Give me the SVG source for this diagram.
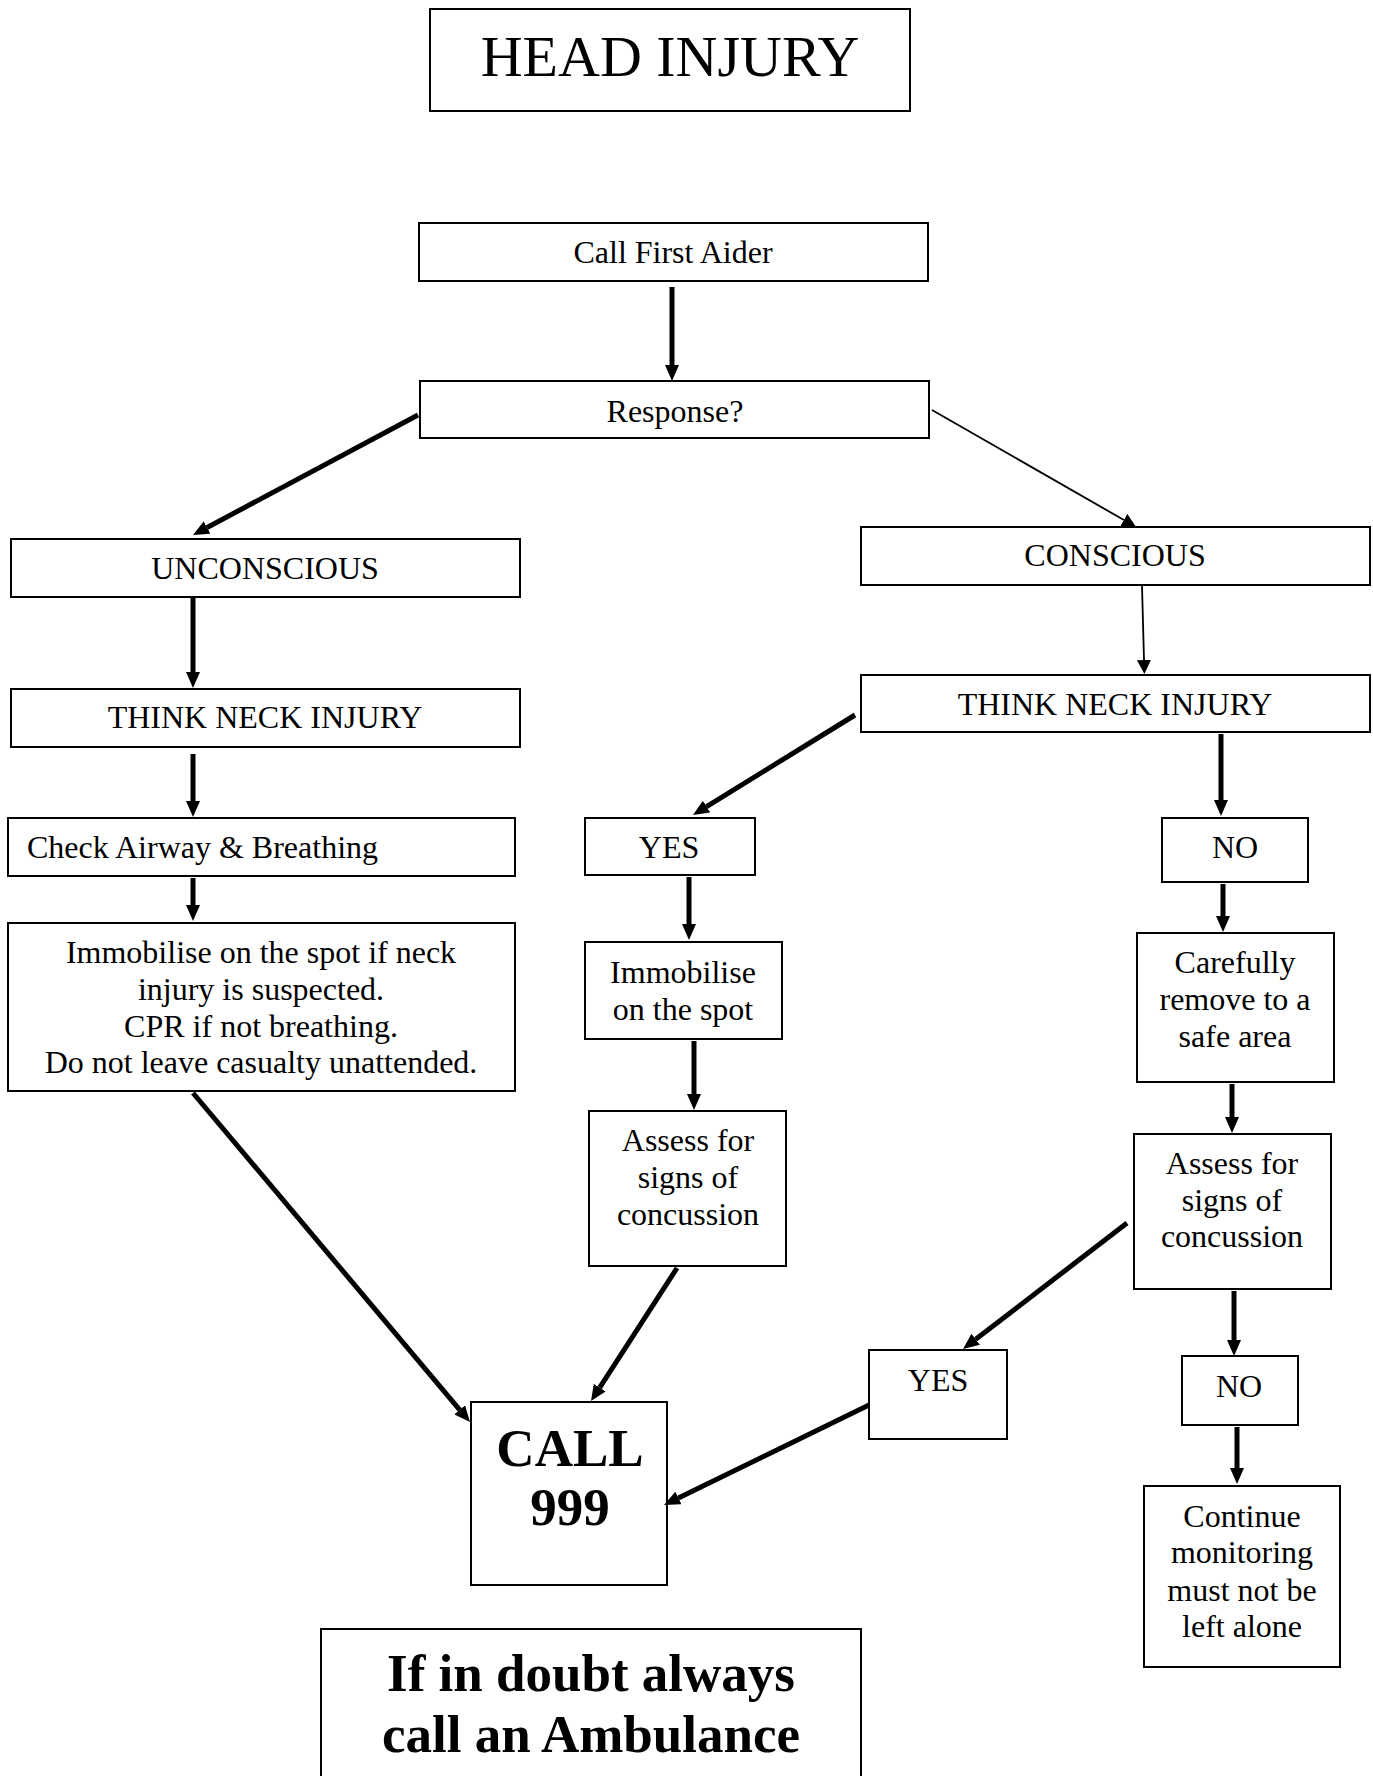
<svg xmlns="http://www.w3.org/2000/svg" width="1373" height="1776" viewBox="0 0 1373 1776">
<style>
.box{fill:#fff;stroke:#000;stroke-width:2}
text{font-family:"Liberation Serif","Times New Roman",serif;font-size:32px;fill:#000;text-anchor:middle}
.title{font-size:58px}
.big{font-size:53px;font-weight:bold}
.left{text-anchor:start}
.thick{stroke:#000;stroke-width:5;fill:none;marker-end:url(#ah)}
.thin{stroke:#000;stroke-width:1.8;fill:none;marker-end:url(#ahs)}
</style>
<defs>
<marker id="ah" markerWidth="16" markerHeight="14" refX="0" refY="7" orient="auto" markerUnits="userSpaceOnUse"><path d="M0,0 L16,7 L0,14 z" fill="#000"/></marker>
<marker id="ahs" markerWidth="14" markerHeight="14" refX="0" refY="7" orient="auto" markerUnits="userSpaceOnUse"><path d="M0,0 L14,7 L0,14 z" fill="#000"/></marker>
</defs>
<rect width="1373" height="1776" fill="#fff"/>
<g id="title"><rect class="box" x="430" y="9" width="480" height="102"/><text class="title" x="670" y="76">HEAD INJURY</text></g>
<g id="call-first-aider"><rect class="box" x="419" y="223" width="509" height="58"/><text x="673" y="263">Call First Aider</text></g>
<g id="response"><rect class="box" x="420" y="381" width="509" height="57"/><text x="675" y="422">Response?</text></g>
<g id="unconscious"><rect class="box" x="11" y="539" width="509" height="58"/><text x="265" y="579">UNCONSCIOUS</text></g>
<g id="conscious"><rect class="box" x="861" y="527" width="509" height="58"/><text x="1115" y="566">CONSCIOUS</text></g>
<g id="think-left"><rect class="box" x="11" y="689" width="509" height="58"/><text x="265" y="728">THINK NECK INJURY</text></g>
<g id="think-right"><rect class="box" x="861" y="675" width="509" height="57"/><text x="1115" y="715">THINK NECK INJURY</text></g>
<g id="check-airway"><rect class="box" x="8" y="818" width="507" height="58"/><text class="left" x="27" y="858">Check Airway &amp; Breathing</text></g>
<g id="immobilise-left"><rect class="box" x="8" y="923" width="507" height="168"/>
<text x="261" y="963">Immobilise on the spot if neck</text><text x="261" y="1000">injury is suspected.</text><text x="261" y="1037">CPR if not breathing.</text><text x="261" y="1073">Do not leave casualty unattended.</text></g>
<g id="yes-mid"><rect class="box" x="585" y="818" width="170" height="57"/><text x="669" y="858">YES</text></g>
<g id="immobilise-mid"><rect class="box" x="585" y="942" width="197" height="97"/><text x="683" y="983">Immobilise</text><text x="683" y="1020">on the spot</text></g>
<g id="assess-mid"><rect class="box" x="589" y="1111" width="197" height="155"/><text x="688" y="1151">Assess for</text><text x="688" y="1188">signs of</text><text x="688" y="1225">concussion</text></g>
<g id="call-999"><rect class="box" x="471" y="1402" width="196" height="183"/><text class="big" x="570" y="1466">CALL</text><text class="big" x="570" y="1525">999</text></g>
<g id="no-right"><rect class="box" x="1162" y="818" width="146" height="64"/><text x="1235" y="858">NO</text></g>
<g id="carefully"><rect class="box" x="1137" y="933" width="197" height="149"/><text x="1235" y="973">Carefully</text><text x="1235" y="1010">remove to a</text><text x="1235" y="1047">safe area</text></g>
<g id="assess-right"><rect class="box" x="1134" y="1134" width="197" height="155"/><text x="1232" y="1174">Assess for</text><text x="1232" y="1211">signs of</text><text x="1232" y="1247">concussion</text></g>
<g id="yes-right"><rect class="box" x="869" y="1350" width="138" height="89"/><text x="938" y="1391">YES</text></g>
<g id="no-right2"><rect class="box" x="1182" y="1356" width="116" height="69"/><text x="1239" y="1397">NO</text></g>
<g id="continue"><rect class="box" x="1144" y="1486" width="196" height="181"/><text x="1242" y="1527">Continue</text><text x="1242" y="1563">monitoring</text><text x="1242" y="1601">must not be</text><text x="1242" y="1637">left alone</text></g>
<g id="doubt"><rect class="box" x="321" y="1629" width="540" height="170"/><text class="big" x="591" y="1691">If in doubt always</text><text class="big" x="591" y="1752">call an Ambulance</text></g>
<g id="connectors">
<line class="thick" x1="672" y1="287" x2="672" y2="365"/>
<line class="thick" x1="418" y1="415" x2="207.1" y2="527.5"/>
<line class="thin" x1="932" y1="410" x2="1123.9" y2="520"/>
<line class="thick" x1="193" y1="597" x2="193" y2="672"/>
<line class="thin" x1="1142" y1="586" x2="1144" y2="660"/>
<line class="thick" x1="193" y1="754" x2="193" y2="801"/>
<line class="thick" x1="193" y1="878" x2="193" y2="905"/>
<line class="thick" x1="193" y1="1093" x2="459.7" y2="1409.8"/>
<line class="thick" x1="855" y1="715" x2="706.6" y2="806.6"/>
<line class="thick" x1="689" y1="877" x2="689" y2="924"/>
<line class="thick" x1="694" y1="1041" x2="694" y2="1094"/>
<line class="thick" x1="677" y1="1268" x2="599.7" y2="1387.6"/>
<line class="thick" x1="1221" y1="734" x2="1221" y2="800"/>
<line class="thick" x1="1223" y1="884" x2="1223" y2="916"/>
<line class="thick" x1="1232" y1="1084" x2="1232" y2="1117"/>
<line class="thick" x1="1127" y1="1223" x2="975.7" y2="1339.3"/>
<line class="thick" x1="869" y1="1405" x2="678.4" y2="1498"/>
<line class="thick" x1="1234" y1="1291" x2="1234" y2="1340"/>
<line class="thick" x1="1237" y1="1427" x2="1237" y2="1468"/>
</g>
</svg>
